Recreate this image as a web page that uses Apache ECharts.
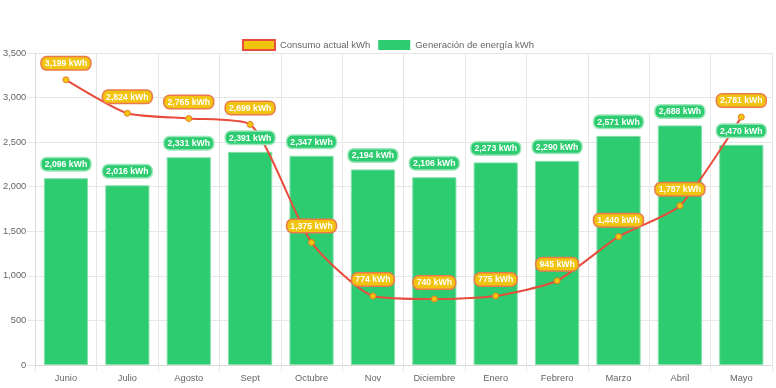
<!DOCTYPE html>
<html>
<head>
<meta charset="utf-8">
<script src="https://cdn.jsdelivr.net/npm/echarts@6/dist/echarts.min.js"></script>
<style>html,body{margin:0;padding:0;background:#fff;}#c{width:776px;height:388px;}</style>
</head>
<body>
<div id="c"></div>
<script>
const categories = ['Junio','Julio','Agosto','Sept','Octubre','Nov','Diciembre','Enero','Febrero','Marzo','Abril','Mayo'];
const consumo = [3199, 2824, 2765, 2699, 1375, 774, 740, 775, 945, 1440, 1787, 2781];
const generacion = [2096, 2016, 2331, 2391, 2347, 2194, 2106, 2273, 2290, 2571, 2688, 2470];
const yTicks = [0, 500, 1000, 1500, 2000, 2500, 3000, 3500];

const FONT = '"Liberation Sans", Arial, Helvetica, sans-serif';
const fmt = v => v.toLocaleString('en-US') + ' kWh';
const chart = echarts.init(document.getElementById('c'));
const gridColor = '#e6e6e6';

const barLabel = {
  show: true, position: 'top', distance: 8,
  formatter: p => fmt(p.value),
  color: '#fff', fontWeight: 'bold', fontSize: 8.7, fontFamily: FONT,
  backgroundColor: '#2ecc71', borderColor: '#9ee8bc', borderWidth: 1.5,
  borderRadius: 5, padding: [2, 3, 1, 3]
};

chart.setOption({
  animation: false,
  textStyle: { fontFamily: FONT },
  legend: {
    top: 34, left: 'center',
    itemWidth: 32, itemHeight: 10, itemGap: 8,
    textStyle: { color: '#666', fontSize: 9.5, fontFamily: FONT },
    data: [
      { name: 'Consumo actual kWh', icon: 'rect', itemStyle: { color: '#f1c40f', borderColor: '#e74c3c', borderWidth: 2 } },
      { name: 'Generación de energía kWh', icon: 'rect', itemStyle: { color: '#2ecc71', borderColor: '#2ecc71', borderWidth: 0 } }
    ]
  },
  grid: { left: 35, right: 4, top: 53, bottom: 23 },
  xAxis: {
    type: 'category', data: categories, boundaryGap: true,
    axisLine: { lineStyle: { color: '#d9d9d9' } },
    axisTick: { show: true, length: 6, lineStyle: { color: gridColor } },
    splitLine: { show: true, lineStyle: { color: gridColor } },
    axisLabel: { color: '#666', fontSize: 9.3, margin: 9, fontFamily: FONT }
  },
  yAxis: {
    type: 'value', min: yTicks[0], max: yTicks[yTicks.length - 1], interval: 500,
    axisLine: { show: true, lineStyle: { color: '#d9d9d9' } },
    axisTick: { show: true, length: 8, lineStyle: { color: gridColor } },
    splitLine: { lineStyle: { color: gridColor } },
    axisLabel: { color: '#666', fontSize: 9.3, margin: 9, fontFamily: FONT,
      formatter: v => v.toLocaleString('en-US') }
  },
  series: [
    {
      name: 'Generación de energía kWh', type: 'bar', data: generacion,
      barCategoryGap: '28%', z: 1,
      itemStyle: { color: '#2ecc71', borderColor: '#86e0ab', borderWidth: 1 },
      label: { show: false }
    },
    {
      name: 'Consumo actual kWh', type: 'line', data: consumo, smooth: 0.2, z: 3,
      symbol: 'circle', symbolSize: 6,
      lineStyle: { color: '#e74c3c', width: 2 },
      itemStyle: { color: '#f1c40f', borderColor: '#e67e22', borderWidth: 1 },
      label: {
        show: true, position: 'top', distance: 7,
        formatter: p => fmt(p.value),
        color: '#fff', fontWeight: 'bold', fontSize: 8.7, fontFamily: FONT,
        backgroundColor: '#f1c40f', borderColor: '#ea7a4e', borderWidth: 1.5,
        borderRadius: 5, padding: [2, 3, 1, 3]
      }
    },
    {
      name: 'gen-labels', type: 'bar', data: generacion,
      barCategoryGap: '28%', barGap: '-100%', z: 5, silent: true,
      itemStyle: { color: 'rgba(0,0,0,0)' },
      label: barLabel
    }
  ]
});
</script>
</body>
</html>
